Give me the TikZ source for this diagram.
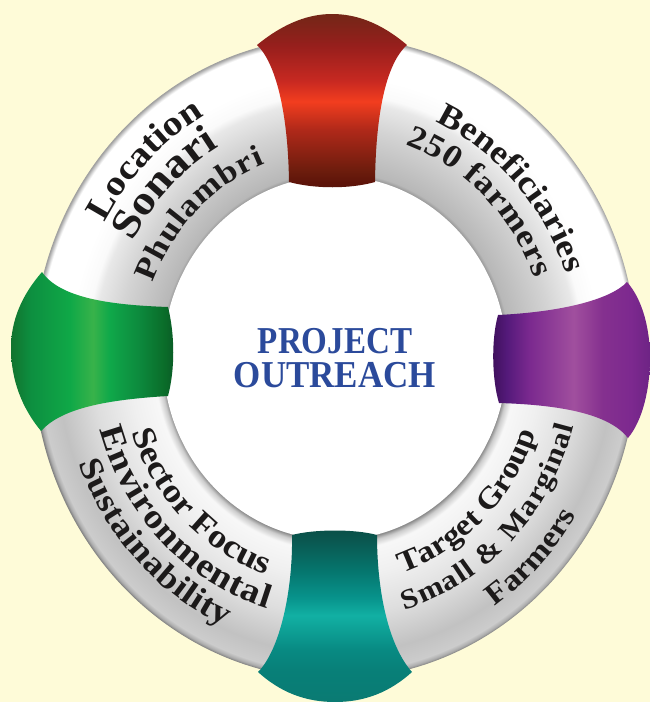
\documentclass[tikz,border=0pt]{standalone}
\usepackage{fontspec}
\setmainfont{Liberation Serif}
\usetikzlibrary{decorations.text}
\newfontface\ctrA[FakeStretch=0.87]{Liberation Serif Bold}
\newfontface\ctrB[FakeStretch=0.92]{Liberation Serif Bold}
\newfontface\wideB[FakeStretch=1.12]{Liberation Serif Bold}
\definecolor{bgcream}{HTML}{FEFBD8}
\definecolor{textk}{HTML}{1C1A1A}
\definecolor{ctrblue}{HTML}{2B4A9B}
\pgfdeclareverticalshading{redband}{100bp}{rgb(0bp)=(.35,.08,.04); rgb(25bp)=(.35,.08,.04); rgb(27bp)=(.37,.08,.04); rgb(30bp)=(.42,.11,.05); rgb(42bp)=(.69,.16,.10); rgb(50bp)=(.95,.24,.12); rgb(56bp)=(.78,.16,.13); rgb(66bp)=(.59,.12,.11); rgb(75bp)=(.45,.15,.09); rgb(100bp)=(.45,.15,.09)}
\pgfdeclareverticalshading{tealband}{100bp}{rgb(0bp)=(.04,.48,.45); rgb(25bp)=(.04,.48,.45); rgb(34bp)=(.03,.50,.47); rgb(40bp)=(.03,.54,.51); rgb(50bp)=(.07,.69,.64); rgb(55bp)=(.03,.58,.55); rgb(63bp)=(.02,.46,.43); rgb(72bp)=(.04,.34,.31); rgb(75bp)=(.04,.31,.28); rgb(100bp)=(.04,.31,.28)}
\pgfdeclarehorizontalshading{greenband}{100bp}{rgb(0bp)=(.07,.45,.18); rgb(25bp)=(.07,.45,.18); rgb(31bp)=(.05,.56,.25); rgb(43bp)=(.06,.66,.28); rgb(50bp)=(.22,.70,.29); rgb(55bp)=(.06,.66,.29); rgb(64bp)=(.05,.54,.24); rgb(72bp)=(.04,.42,.16); rgb(75bp)=(.04,.35,.15); rgb(100bp)=(.04,.35,.15)}
\pgfdeclarehorizontalshading{purpleband}{100bp}{rgb(0bp)=(.24,.06,.35); rgb(25bp)=(.24,.06,.35); rgb(30bp)=(.33,.10,.48); rgb(37bp)=(.48,.16,.56); rgb(51bp)=(.63,.31,.62); rgb(60bp)=(.52,.19,.56); rgb(69bp)=(.49,.16,.56); rgb(75bp)=(.43,.14,.52); rgb(100bp)=(.43,.14,.52)}
\pgfdeclareradialshading{ringtop}{\pgfpoint{0bp}{0bp}}{rgb(0bp)=(.6,.6,.6); rgb(14.2bp)=(.6,.6,.6); rgb(14.5bp)=(.72,.72,.72); rgb(18bp)=(.83,.83,.83); rgb(20bp)=(.91,.91,.91); rgb(20.6bp)=(.98,.98,.98); rgb(22bp)=(1,1,1); rgb(24.6bp)=(1,1,1); rgb(24.8bp)=(.82,.82,.82); rgb(25bp)=(.62,.62,.62); rgb(50bp)=(.62,.62,.62)}
\pgfdeclareradialshading{ringbot}{\pgfpoint{0bp}{0bp}}{rgb(0bp)=(.55,.55,.55); rgb(14.2bp)=(.55,.55,.55); rgb(14.5bp)=(.8,.8,.8); rgb(15bp)=(.97,.97,.97); rgb(17bp)=(.94,.94,.94); rgb(20bp)=(.87,.87,.87); rgb(23bp)=(.76,.76,.76); rgb(24.5bp)=(.8,.8,.8); rgb(24.8bp)=(.68,.68,.68); rgb(25bp)=(.5,.5,.5); rgb(50bp)=(.5,.5,.5)}
\newcommand\tsize[1]{\wideB\fontsize{#1}{#1}\selectfont\color{textk}}
\newcommand\fLoc{\tsize{35}}
\newcommand\fSon{\tsize{41}}
\newcommand\fPhu{\tsize{31}}
\newcommand\fBen{\tsize{33}}
\newcommand\fFar{\tsize{32}}
\newcommand\fTar{\tsize{30}}
\newcommand\fSma{\tsize{28}}
\newcommand\fSec{\tsize{33}}
\newcommand\fEnv{\tsize{34}}
\newcommand\fSus{\tsize{33}}
% #1 font, #2 radius, #3 start (math angle), #4 end (math angle), #5 text
\newcommand\ringtext[5]{%
  \path[decorate,decoration={text along path,text align={fit to path},text={|#1|#5}}]
    ({335+#2*cos(#3)},{358-1.063*#2*sin(#3)})
    arc[start angle={-(#3)},end angle={-(#4)},x radius=#2,y radius={1.063*#2}];}
\begin{document}
\begin{tikzpicture}[x=1pt,y=-1pt]
\useasboundingbox (0,0) rectangle (650,702);
\fill[bgcream] (0,0) rectangle (650,702);
% ring body
\begin{scope}
  \clip (0,0) rectangle (650,358);
  \shade[shading=ringtop] (335,358) ellipse [x radius=302,y radius=321];
\end{scope}
\begin{scope}
  \clip (0,358) rectangle (650,702);
  \shade[shading=ringbot] (335,358) ellipse [x radius=302,y radius=321];
\end{scope}
\fill[white] (335,358) ellipse [x radius=172,y radius=182];
% bands
\shade[shading=redband] (257,45) .. controls (285,22) and (310,14) .. (332,14)
  .. controls (355,14) and (380,22) .. (407,45)
  .. controls (390,60) and (376,100) .. (375,182)
  .. controls (350,189) and (315,189) .. (289,182)
  .. controls (288,110) and (275,62) .. (257,45) -- cycle;
\shade[shading=tealband] (292,535) .. controls (315,529) and (355,529) .. (377,535)
  .. controls (377,590) and (388,645) .. (412,672)
  .. controls (390,692) and (365,702) .. (335,702)
  .. controls (305,702) and (280,692) .. (258,672)
  .. controls (280,650) and (293,590) .. (292,535) -- cycle;
\shade[shading=greenband] (42,272) .. controls (22,295) and (11,320) .. (11,348)
  .. controls (11,380) and (22,408) .. (41,431)
  .. controls (60,410) and (100,400) .. (168,396)
  .. controls (175,370) and (175,335) .. (168,307)
  .. controls (110,305) and (60,298) .. (42,272) -- cycle;
\shade[shading=purpleband] (627,282) .. controls (643,300) and (650,330) .. (650,358)
  .. controls (650,388) and (643,420) .. (628,438)
  .. controls (610,415) and (565,405) .. (499,403)
  .. controls (492,380) and (491,340) .. (498,315)
  .. controls (560,312) and (610,300) .. (627,282) -- cycle;
% ring texts
\ringtext{\fLoc}{263}{151}{120}{Location}
\ringtext{\fSon}{230}{151.5}{121}{Sonari}
\ringtext{\fPhu}{195.5}{158.7}{111}{Phulambri}
\ringtext{\fBen}{244}{65.7}{19}{Beneficiaries}
\ringtext{\fFar}{213}{70.7}{20.5}{250 farmers}
\ringtext{\fTar}{213}{-71.6}{-19.8}{Target Group}
\ringtext{\fSma}{247}{-73.6}{-15}{Small {\&} Marginal}
\ringtext{\fTar}{283}{-55.6}{-31.6}{Farmers}
\ringtext{\fSec}{215}{-161}{-109}{Sector Focus}
\ringtext{\fEnv}{245}{-164}{-106}{Environmental}
\ringtext{\fSus}{275}{-158.9}{-113.5}{Sustainability}
% centre
\node[anchor=base,inner sep=0pt,text=ctrblue,font=\ctrA\fontsize{38}{38}\selectfont] (projectlabel) at (335,353) {PROJECT};
\node[anchor=base,inner sep=0pt,text=ctrblue,font=\ctrB\fontsize{38}{38}\selectfont] (outreachlabel) at (335,387) {OUTREACH};
\end{tikzpicture}
\end{document}
